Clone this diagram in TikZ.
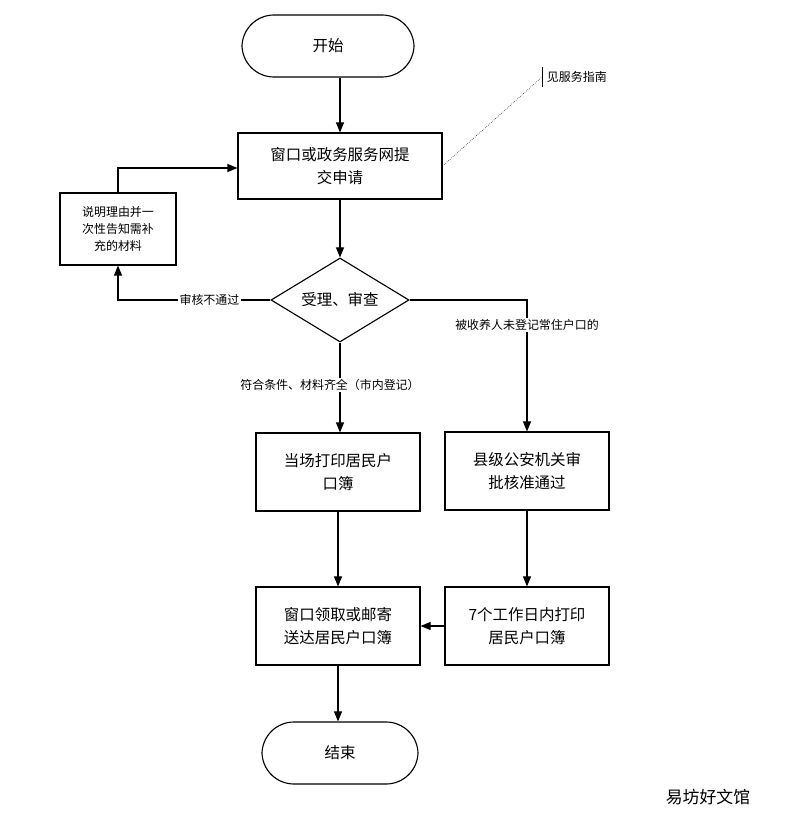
\documentclass[tikz,border=0pt]{standalone}
\usepackage{fontspec}
\setmainfont{Noto Sans CJK SC}
\usetikzlibrary{shapes.geometric,arrows.meta}
\tikzset{
  box/.style={draw, thick, minimum width=4.1cm, minimum height=1.95cm, align=center, font=\fontsize{11}{16}\selectfont},
  term/.style={draw, thick, rounded corners=0.8cm, minimum width=4.1cm, minimum height=1.55cm, font=\fontsize{11}{13}\selectfont},
  lab/.style={font=\fontsize{8.5}{10}\selectfont, fill=white, inner sep=1pt},
  arr/.style={thick, -{Triangle[length=2.5mm,width=2mm]}}
}
\begin{document}
\begin{tikzpicture}[x=0.025cm,y=-0.025cm]
\useasboundingbox (0,0) rectangle (795,828);
%% main column
\node[term, minimum width=4.3cm] (start) at (328,46) {开始};
\node[box, minimum width=5.1cm, minimum height=1.65cm] (apply) at (340,166) {窗口或政务服务网提\\交申请};
\node[draw, thick, diamond, aspect=1.65, minimum width=3.45cm, minimum height=2.1cm, font=\fontsize{11}{13}\selectfont, inner sep=0pt] (check) at (340,300) {受理、审查};
\node[box, minimum width=2.9cm, minimum height=1.8cm, font=\fontsize{8.5}{12}\selectfont] (back) at (118,229) {说明理由并一\\次性告知需补\\充的材料};
\node[box] (print) at (338,472) {当场打印居民户\\口簿};
\node[box] (county) at (527,471) {县级公安机关审\\批核准通过};
\node[box] (seven) at (527,626) {7个工作日内打印\\居民户口簿};
\node[box] (take) at (338,626) {窗口领取或邮寄\\送达居民户口簿};
\node[term, minimum width=3.9cm] (stop) at (340,753) {结束};

% note
\node[font=\fontsize{8.5}{10}\selectfont, anchor=west] (note) at (542,77) {见服务指南};
\draw (note.north west) -- (note.south west);
\draw[densely dotted] (apply.east) -- (note.west);

% connectors
\draw[arr] (start.south -| apply.north) -- (apply.north);
\draw[arr] (apply) -- (check);
\draw[arr] (check.west) -- (118,300) node[lab, pos=0.4] {审核不通过} -- (back.south);
\draw[arr] (back.north) -- (118,168) -- (apply.west |- 0,168);
\draw[arr] (check.east) -- (527,300) -- (county.north);
\node[lab] (l2) at (527,325) {被收养人未登记常住户口的};
\draw[arr] (check.south) -- (print.north -| check.south);
\node[lab] (l1) at (330,385) {符合条件、材料齐全（市内登记）};
\draw[arr] (print) -- (take);
\draw[arr] (county) -- (seven);
\draw[arr] (seven) -- (take);
\draw[arr] (take.south) -- (stop.north -| take.south);

\node[font=\fontsize{12}{14}\selectfont] (wm) at (708,797) {易坊好文馆};
\end{tikzpicture}
\end{document}
